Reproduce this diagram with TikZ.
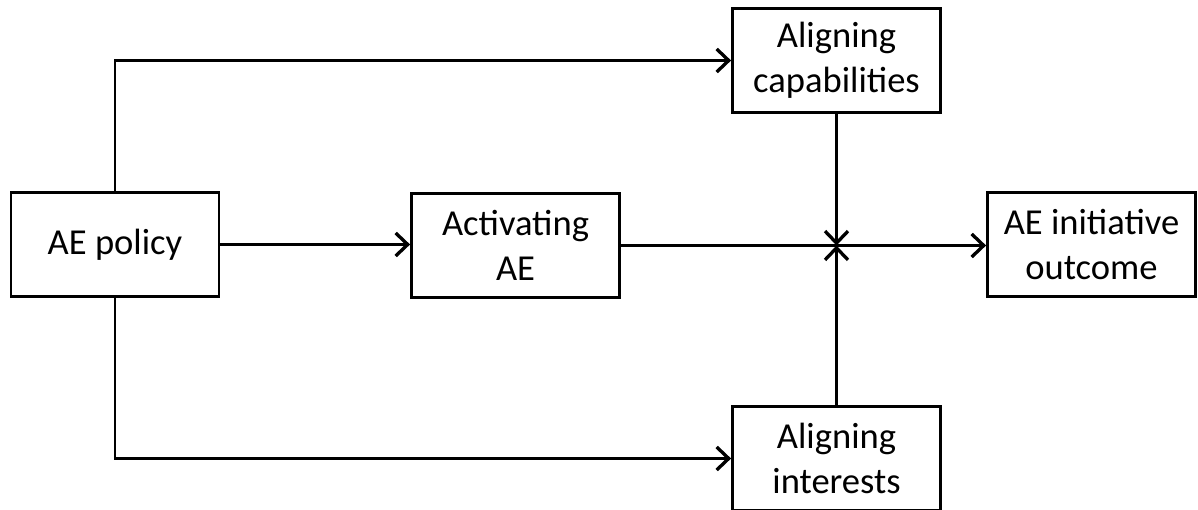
\documentclass[tikz,border=0pt]{standalone}
\usepackage{fontspec}
\setmainfont{Carlito}
\usetikzlibrary{arrows.meta, positioning, calc}

\begin{document}
\begin{tikzpicture}[
    box/.style={draw, line width=1.6pt, minimum width=4.16cm, minimum height=2.08cm,
                align=center, inner sep=2pt, font=\fontsize{20.8}{25.5}\selectfont},
    link/.style={line width=1.2pt},
    arr/.style={link, -{Straight Barb[length=2.4mm, width=4.6mm, line width=1.9pt]}}
  ]
    \useasboundingbox (0,0) rectangle (23.96,-10.2);

    \node[box] (policy) at (2.3,-4.89) {AE policy};
    \node[box] (activating) at (10.31,-4.91) {Activating\\AE};
    \node[box] (capabilities) at (16.73,-1.21) {Aligning\\capabilities};
    \node[box] (interests) at (16.73,-9.17) {Aligning\\interests};
    \node[box] (outcome) at (21.83,-4.89) {AE initiative\\outcome};

    \coordinate (meet) at (capabilities.south |- activating.east);

    \draw[arr] (policy.east) -- (policy.east -| activating.west);
    \draw[arr] (policy.north) |- (capabilities.west);
    \draw[arr] (policy.south) |- (interests.west);
    \draw[arr] (activating.east) -- (activating.east -| outcome.west);
    \draw[arr] (capabilities.south) -- (meet);
    \draw[arr] (interests.north) -- (meet);
  \end{tikzpicture}
\end{document}
